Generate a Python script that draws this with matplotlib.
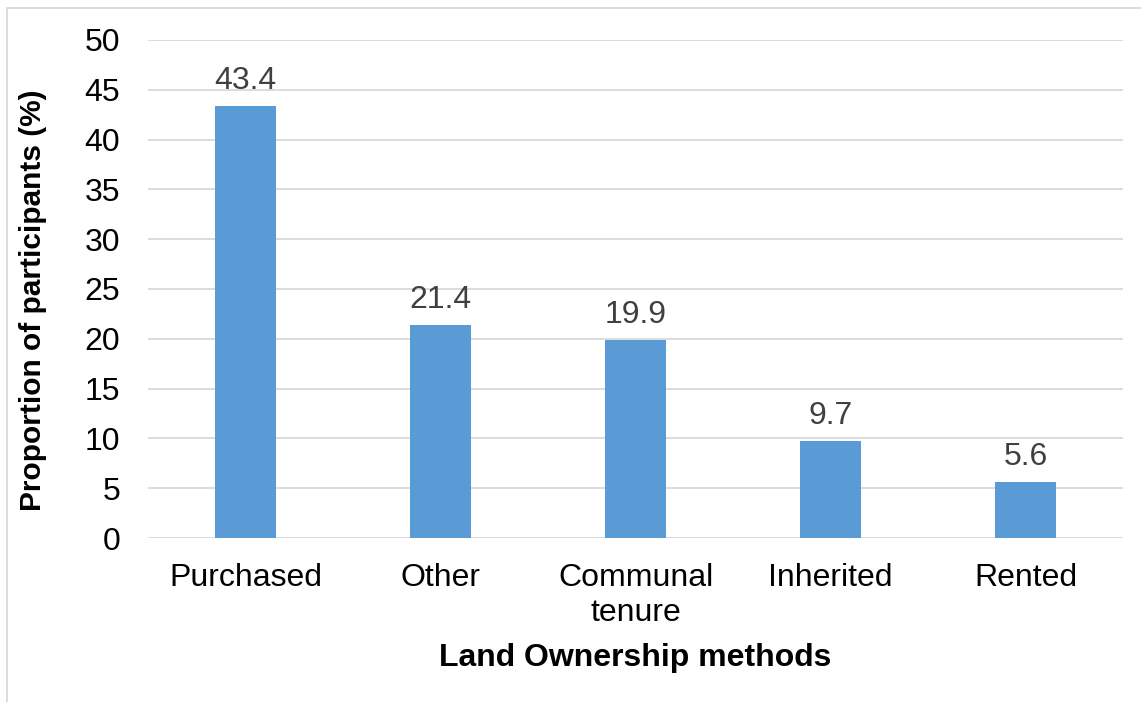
import matplotlib.pyplot as plt
from matplotlib.patches import Rectangle

# data
categories = ["Purchased", "Other", "Communal\ntenure", "Inherited", "Rented"]
values = [43.4, 21.4, 19.9, 9.7, 5.6]
yticks = [0, 5, 10, 15, 20, 25, 30, 35, 40, 45, 50]

plt.rcParams['font.family'] = ['Liberation Sans', 'DejaVu Sans']

W, H = 1141, 702
fig = plt.figure(figsize=(W / 100, H / 100), dpi=100)
ax = fig.add_axes([148 / W, 1 - 538 / H, (1123 - 148) / W, (538 - 40) / H])

fs = 23
x = range(len(categories))
bars = ax.bar(x, values, width=0.31, color="#5B9BD5", zorder=3)

for b, v in zip(bars, values):
    ax.text(b.get_x() + b.get_width() / 2, v + 1.0, f"{v:.1f}",
            ha="center", va="bottom", fontsize=fs, color="#404040")

ax.set_xlim(-0.5, len(categories) - 0.5)
ax.set_ylim(0, 50)
ax.set_yticks(yticks)
ax.set_xticks(list(x))
ax.set_xticklabels(categories, fontsize=fs, color="#000000", linespacing=1.2)
ax.tick_params(axis="y", labelsize=fs, length=0, pad=20)
ax.tick_params(axis="x", length=0, pad=18)
ax.yaxis.grid(True, color="#D9D9D9", linewidth=1.3, zorder=0)
for s in ax.spines.values():
    s.set_visible(False)

ax.set_ylabel("Proportion of participants (%)", fontsize=21.5, fontweight="bold")
ax.yaxis.set_label_coords(-0.104, 0.478)
ax.set_xlabel("Land Ownership methods", fontsize=fs, fontweight="bold", labelpad=11)

# outer chart frame
fig.patches.append(Rectangle((7 / W, -0.1), 1.2, 1 - 8 / H + 0.1,
                             transform=fig.transFigure, fill=False,
                             edgecolor="#D9D9D9", linewidth=1.3))

fig.savefig("out.png", dpi=100)
